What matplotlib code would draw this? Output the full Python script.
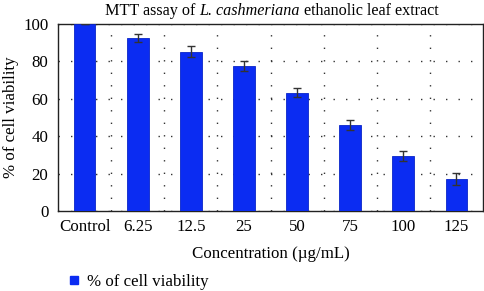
import numpy as np
import matplotlib
matplotlib.use("Agg")
import matplotlib.pyplot as plt
from matplotlib.lines import Line2D

plt.rcParams['font.family'] = ['Liberation Serif', 'DejaVu Serif']

categories = ["Control", "6.25", "12.5", "25", "50", "75", "100", "125"]
viability = [100.0, 92.7, 85.2, 77.5, 63.3, 45.8, 29.4, 17.3]
errors = [0.0, 2.2, 3.0, 2.9, 2.6, 2.7, 2.7, 3.2]

blue = '#0b2cf2'
fs = 12.2

fig = plt.figure(figsize=(4.84, 2.91), dpi=100)
ax = fig.add_axes([58/484, 80/291, 425/484, 187/291])

x = np.arange(len(categories))
ax.bar(x, viability, width=0.41, color=blue, edgecolor='#0a25c8', linewidth=0.6,
       yerr=errors, error_kw=dict(ecolor='#333333', elinewidth=1.0, capsize=3, capthick=1.0),
       zorder=3)

ax.set_xlim(-0.5, 7.5)
ax.set_ylim(0, 100)
ax.set_yticks([0, 20, 40, 60, 80, 100])
ax.set_xticks(x)
ax.set_xticklabels(categories)
ax.set_xticks(np.arange(0.5, 7.5, 1), minor=True)
ax.tick_params(axis='both', which='both', length=0, labelsize=fs)
ax.tick_params(axis='x', pad=6)
ax.tick_params(axis='y', pad=7)
ax.grid(axis='y', which='major', linestyle=(0, (1, 8)), color='#333333', linewidth=1.0, zorder=0)
ax.grid(axis='x', which='minor', linestyle=(0, (1, 8)), color='#333333', linewidth=1.0, zorder=0)
for s in ax.spines.values():
    s.set_linewidth(1.0)
    s.set_color('#222222')

# title with an italic species name
ty = 1 - 11/291
t1 = fig.text(105/484, ty, "MTT assay of ", fontsize=11.6, va='center', ha='left')
fig.canvas.draw()
r = fig.canvas.get_renderer()
bb = t1.get_window_extent(r)
t2 = fig.text(bb.x1/484, ty, "L. cashmeriana", fontsize=11.6, style='italic', va='center', ha='left')
bb2 = t2.get_window_extent(r)
fig.text(bb2.x1/484, ty, " ethanolic leaf extract", fontsize=11.6, va='center', ha='left')

ax.set_ylabel("% of cell viability", fontsize=fs, labelpad=3)
ax.set_xlabel("Concentration (\u00b5g/mL)", fontsize=fs, labelpad=8)

handle = Line2D([], [], marker='s', linestyle='none', color=blue, markersize=6)
fig.legend([handle], ["% of cell viability"], loc='center left', bbox_to_anchor=(50/484, 1 - 282/291),
           frameon=False, fontsize=fs, handletextpad=0.3, handlelength=1.0)

fig.savefig("out.png", dpi=100)
